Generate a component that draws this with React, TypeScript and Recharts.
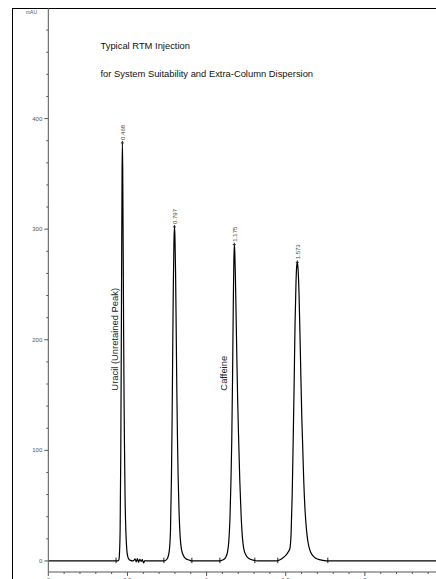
import { LineChart, Line, XAxis, YAxis, ReferenceDot, ReferenceLine } from "recharts";

// retention time (min) and detector signal (mAU)
const traceTime = [
  0, 0.2, 0.42,
  0.44, 0.446, 0.45, 0.454, 0.458, 0.461, 0.464, 0.466, 0.468, 0.47, 0.473, 0.476, 0.479, 0.481, 0.485, 0.49, 0.496, 0.502, 0.51, 0.52, 0.53,
  0.54, 0.548, 0.556, 0.563, 0.57, 0.578, 0.586, 0.594, 0.602, 0.61, 0.62, 0.68, 0.73,
  0.745, 0.755, 0.765, 0.772, 0.778, 0.782, 0.786, 0.79, 0.794, 0.797, 0.8, 0.804, 0.808, 0.812, 0.816, 0.82, 0.826, 0.833, 0.842, 0.855, 0.87, 0.89, 0.905, 1.0, 1.08,
  1.095, 1.11, 1.122, 1.132, 1.14, 1.148, 1.154, 1.159, 1.164, 1.169, 1.172, 1.175, 1.178, 1.182, 1.187, 1.192, 1.197, 1.203, 1.21, 1.218, 1.226, 1.235, 1.25, 1.27, 1.3, 1.32, 1.4, 1.445,
  1.46, 1.48, 1.5, 1.515, 1.526, 1.534, 1.541, 1.547, 1.553, 1.559, 1.565, 1.569, 1.573, 1.578, 1.584, 1.59, 1.596, 1.602, 1.607, 1.614, 1.622, 1.632, 1.642, 1.652, 1.67, 1.69, 1.72, 1.76, 2.0, 2.5,
];
const traceSignal = [
  0, 0, 0,
  0, 1, 8, 30, 100, 190, 290, 350, 378, 356, 285, 205, 140, 108, 58, 27, 10, 4, 1.5, 0.5, 0,
  0.5, 1.8, -0.8, 2.2, -1.2, 1.5, -0.5, 1.2, -1.8, 0.3, 0, 0, 0,
  1, 3, 10, 28, 75, 125, 190, 250, 290, 302, 294, 262, 210, 155, 112, 78, 45, 22, 10, 4.5, 2, 0.8, 0, 0, 0,
  0.5, 1.5, 3.5, 8, 17, 40, 72, 108, 165, 235, 268, 286, 280, 258, 218, 178, 142, 108, 72, 42, 22, 11, 5, 2, 0.5, 0, 0, 0,
  0.8, 2.5, 5, 8, 11, 25, 60, 108, 158, 215, 252, 266, 270, 264, 242, 205, 165, 128, 105, 72, 46, 27, 16, 10, 5, 2.5, 1, 0, 0, 0,
];

const peakTimes = [0.468, 0.797, 1.175, 1.573];
const peakHeights = [378, 302, 286, 270];
const peakLabels = ["0.468", "0.797", "1.175", "1.573"];

const compoundNames = ["Uracil (Unretained Peak)", "Caffeine"];
const compoundTimes = [0.416, 1.104];
const compoundLevel = 154;

const integrationMarks = [0.428, 0.73, 0.907, 1.084, 1.305, 1.45, 1.766];

const yTicks = [0, 20, 40, 60, 80, 100, 120, 140, 160, 180, 200, 220, 240, 260, 280, 300, 320, 340, 360, 380, 400, 420, 440, 460, 480];
const xTicks = [0, 0.1, 0.2, 0.3, 0.4, 0.5, 0.6, 0.7, 0.8, 0.9, 1, 1.1, 1.2, 1.3, 1.4, 1.5, 1.6, 1.7, 1.8, 1.9, 2, 2.1, 2.2, 2.3, 2.4];

const titleLines = ["Typical RTM Injection", "for System Suitability and Extra-Column Dispersion"];

const data = traceTime.map((t, i) => ({ t, mAU: traceSignal[i] }));

const font = "'Liberation Sans', Arial, sans-serif";

const YTick = (props: any) => {
  const { x, y, payload } = props;
  const major = payload.value % 100 === 0;
  return (
    <g>
      <line x1={x - (major ? 4 : 2)} x2={x} y1={y} y2={y} stroke="#555" />
      {major && (
        <text x={x - 6} y={y} textAnchor="end" dominantBaseline="central" fontSize={6} fill="#555">
          {payload.value}
        </text>
      )}
    </g>
  );
};

const XTick = (props: any) => {
  const { x, y, payload } = props;
  const v = payload.value;
  const major = Math.abs(v * 2 - Math.round(v * 2)) < 1e-6;
  return (
    <g>
      <line x1={x} x2={x} y1={y} y2={y + (major ? 4 : 2)} stroke="#555" />
      {major && (
        <text x={x} y={y + 10} textAnchor="middle" fontSize={6} fill="#555">
          {v}
        </text>
      )}
    </g>
  );
};

const peakMarker = (label: string) => (props: any) => {
  const { cx, cy } = props;
  return (
    <g>
      <line x1={cx - 1.5} x2={cx + 1.5} y1={cy} y2={cy} stroke="#222" />
      <line x1={cx} x2={cx} y1={cy} y2={cy - 2} stroke="#222" />
      <text
        x={cx + 1}
        y={cy - 3}
        transform={`rotate(-90, ${cx + 1}, ${cy - 3})`}
        dominantBaseline="central"
        fontSize={6}
        fill="#444"
        fontFamily={font}
      >
        {label}
      </text>
    </g>
  );
};

const compoundText = (name: string) => (props: any) => {
  const { cx, cy } = props;
  return (
    <text
      x={cx}
      y={cy}
      transform={`rotate(-90, ${cx}, ${cy})`}
      dominantBaseline="central"
      fontSize={9.4}
      fill="#222"
      fontFamily={font}
    >
      {name}
    </text>
  );
};

export default function App() {
  return (
    <div
      style={{
        position: "absolute",
        left: 0,
        top: 0,
        width: 436,
        height: 579,
        overflow: "hidden",
        background: "#fff",
        fontFamily: font,
      }}
    >
      <div
        style={{
          position: "absolute",
          left: 12,
          top: 8,
          width: 440,
          height: 600,
          borderLeft: "1px solid #000",
          borderTop: "1px solid #000",
        }}
      />
      <div style={{ position: "absolute", left: 18, width: 19, top: 9, fontSize: 5, lineHeight: "6px", color: "#555", textAlign: "right" }}>
        mAU
      </div>
      {titleLines.map((line, i) => (
        <div
          key={line}
          style={{
            position: "absolute",
            left: 100.5,
            top: i === 0 ? 41 : 69.2,
            fontSize: 9.4,
            lineHeight: "9px",
            color: "#111",
            whiteSpace: "nowrap",
          }}
        >
          {line}
        </div>
      ))}
      <LineChart
        width={452}
        height={610}
        data={data}
        margin={{ top: 8, right: 8, left: 12, bottom: 8 }}
        style={{ position: "absolute", left: 0, top: 0, fontFamily: font }}
      >
        <XAxis
          dataKey="t"
          type="number"
          domain={[0, 2.5]}
          ticks={xTicks}
          interval={0}
          tick={<XTick />}
          tickLine={false}
          tickSize={0}
          tickMargin={0}
          axisLine={{ stroke: "#555" }}
          height={30}
          allowDataOverflow
        />
        <YAxis
          type="number"
          domain={[-10, 500]}
          ticks={yTicks}
          interval={0}
          tick={<YTick />}
          tickLine={false}
          tickSize={0}
          tickMargin={0}
          axisLine={{ stroke: "#555" }}
          width={36.3}
          allowDataOverflow
        />
        {integrationMarks.map((t) => (
          <ReferenceLine
            key={t}
            segment={[
              { x: t, y: -2 },
              { x: t, y: 3 },
            ]}
            stroke="#222"
          />
        ))}
        <Line
          type="monotone"
          dataKey="mAU"
          stroke="#000"
          strokeWidth={1.2}
          dot={false}
          isAnimationActive={false}
        />
        {peakTimes.map((t, i) => (
          <ReferenceDot key={t} x={t} y={peakHeights[i]} r={0} shape={peakMarker(peakLabels[i])} />
        ))}
        {compoundNames.map((name, i) => (
          <ReferenceDot key={name} x={compoundTimes[i]} y={compoundLevel} r={0} shape={compoundText(name)} />
        ))}
      </LineChart>
    </div>
  );
}
